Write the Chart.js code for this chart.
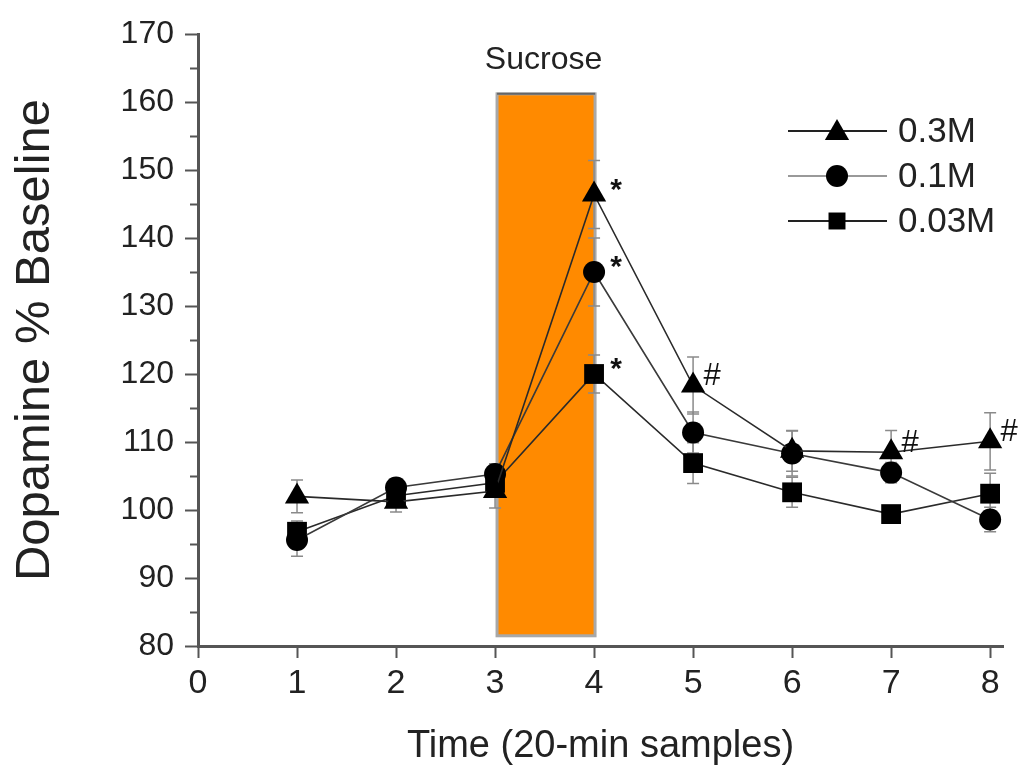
<!DOCTYPE html>
<html lang="en">
<head>
<meta charset="UTF-8">
<title>Dopamine response to sucrose</title>
<script src="https://cdn.jsdelivr.net/npm/chart.js"></script>
<style>
    body { margin: 0; background: #fff; }
    #chart { display: block; }
</style>
</head>
<body>
<canvas id="chart" width="1025" height="769"></canvas>
<script>
// sample number (20-min samples)
const samples = [1, 2, 3, 4, 5, 6, 7, 8];

const seriesNames = ['0.3M', '0.1M', '0.03M'];
const dopamine03 = [102, 101.2, 102.8, 146.4, 118.3, 108.7, 108.5, 110.1];
const dopamine01 = [95.6, 103.3, 105.3, 135.0, 111.4, 108.3, 105.5, 98.6];
const dopamine003 = [96.8, 102.1, 104.0, 120.0, 106.9, 102.6, 99.4, 102.4];

// SEM
const sem03 = [2.4, 1.5, 2.5, 5.0, 4.2, 3.0, 3.2, 4.2];
const sem01 = [2.4, 1.0, 1.5, 5.0, 3.0, 3.3, 1.5, 1.8];
const sem003 = [1.6, 1.0, 1.6, 2.8, 3.0, 2.2, 1.0, 3.0];

// significance marks
const marks03 = ['', '', '', '*', '#', '', '#', '#'];
const marks01 = ['', '', '', '*', '', '', '', ''];
const marks003 = ['', '', '', '*', '', '', '', ''];

const xTicks = [0, 1, 2, 3, 4, 5, 6, 7, 8];
const yTicks = [80, 90, 100, 110, 120, 130, 140, 150, 160, 170];
const yMinorTicks = [85, 95, 105, 115, 125, 135, 145, 155, 165];

// sucrose period
const sucroseLabel = 'Sucrose';
const sucroseStart = 3;
const sucroseEnd = 4;
const sucroseLow = 81.5;
const sucroseHigh = 161.2;

const FONT = "'Liberation Sans', Arial, Helvetica, sans-serif";

function toPoints(values) {
    return samples.map((s, i) => ({ x: s, y: values[i] }));
}

const styles = [
    { pointStyle: 'triangle', radius: 14, line: '#2a2a2a', legendLine: '#222', sem: sem03, marks: marks03 },
    { pointStyle: 'circle', radius: 11, line: '#3a3a3a', legendLine: '#999', sem: sem01, marks: marks01 },
    { pointStyle: 'rect', radius: 14, line: '#2a2a2a', legendLine: '#222', sem: sem003, marks: marks003 }
];
const allValues = [dopamine03, dopamine01, dopamine003];

const datasets = allValues.map((vals, i) => ({
    label: seriesNames[i],
    data: toPoints(vals),
    borderColor: styles[i].line,
    borderWidth: 1.6,
    backgroundColor: '#000',
    pointStyle: styles[i].pointStyle,
    pointRadius: styles[i].radius,
    pointBackgroundColor: '#000',
    pointBorderColor: '#000',
    pointBorderWidth: 0,
    tension: 0
}));

function drawMarker(ctx, style, r, x, y) {
    ctx.beginPath();
    if (style === 'triangle') {
        ctx.moveTo(x, y - r);
        ctx.lineTo(x + 0.866 * r, y + 0.5 * r);
        ctx.lineTo(x - 0.866 * r, y + 0.5 * r);
        ctx.closePath();
    } else if (style === 'circle') {
        ctx.arc(x, y, r, 0, Math.PI * 2);
    } else {
        const s = r * Math.SQRT1_2;
        ctx.rect(x - s, y - s, 2 * s, 2 * s);
    }
    ctx.fill();
}

const extrasPlugin = {
    id: 'extras',
    beforeDatasetsDraw(chart) {
        const { ctx, scales: { x, y } } = chart;
        ctx.save();
        // sucrose box
        const x0 = x.getPixelForValue(sucroseStart) + 2;
        const x1 = x.getPixelForValue(sucroseEnd) + 1;
        const y0 = y.getPixelForValue(sucroseHigh);
        const y1 = y.getPixelForValue(sucroseLow);
        ctx.fillStyle = '#ff8a00';
        ctx.fillRect(x0, y0, x1 - x0, y1 - y0);
        ctx.strokeStyle = '#a8a8a8';
        ctx.lineWidth = 3;
        ctx.strokeRect(x0, y0, x1 - x0, y1 - y0);
        ctx.strokeStyle = '#666';
        ctx.lineWidth = 2;
        ctx.beginPath();
        ctx.moveTo(x0, y0);
        ctx.lineTo(x1, y0);
        ctx.stroke();

        // error bars
        ctx.strokeStyle = '#8a8a8a';
        ctx.lineWidth = 1.5;
        allValues.forEach((vals, si) => {
            vals.forEach((v, i) => {
                const px = x.getPixelForValue(samples[i]);
                const top = y.getPixelForValue(v + styles[si].sem[i]);
                const bot = y.getPixelForValue(v - styles[si].sem[i]);
                ctx.beginPath();
                ctx.moveTo(px, top);
                ctx.lineTo(px, bot);
                ctx.moveTo(px - 6, top);
                ctx.lineTo(px + 6, top);
                ctx.moveTo(px - 6, bot);
                ctx.lineTo(px + 6, bot);
                ctx.stroke();
            });
        });
        ctx.restore();
    },
    afterDatasetsDraw(chart) {
        const { ctx, scales: { x, y } } = chart;
        ctx.save();
        ctx.fillStyle = '#111';
        ctx.textBaseline = 'middle';
        ctx.textAlign = 'center';
        allValues.forEach((vals, si) => {
            vals.forEach((v, i) => {
                const m = styles[si].marks[i];
                if (!m) return;
                const px = x.getPixelForValue(samples[i]);
                const py = y.getPixelForValue(v);
                if (m === '*') {
                    ctx.font = 'bold 30px ' + FONT;
                    ctx.fillText(m, px + 22, py - 4);
                } else {
                    ctx.font = '31px ' + FONT;
                    ctx.fillText(m, px + 19, py - 9);
                }
            });
        });
        ctx.restore();
    },
    afterDraw(chart) {
        const { ctx, scales: { x, y } } = chart;
        ctx.save();
        // minor y ticks
        ctx.strokeStyle = '#555';
        ctx.lineWidth = 2;
        const ax = x.left;
        yMinorTicks.forEach(v => {
            const py = Math.round(y.getPixelForValue(v)) + 0.5;
            ctx.beginPath();
            ctx.moveTo(ax - 8, py);
            ctx.lineTo(ax, py);
            ctx.stroke();
        });

        // sucrose label
        ctx.fillStyle = '#222';
        ctx.font = '32px ' + FONT;
        ctx.textAlign = 'center';
        ctx.textBaseline = 'middle';
        ctx.fillText(sucroseLabel, (x.getPixelForValue(sucroseStart) + x.getPixelForValue(sucroseEnd)) / 2 - 1, 60);

        // legend
        const lx0 = 788, lx1 = 887, mx = 837, tx = 898;
        const rows = [131, 176, 221];
        ctx.textAlign = 'left';
        ctx.font = '35px ' + FONT;
        seriesNames.forEach((name, i) => {
            const ry = rows[i];
            ctx.strokeStyle = styles[i].legendLine;
            ctx.lineWidth = 2;
            ctx.beginPath();
            ctx.moveTo(lx0, ry);
            ctx.lineTo(lx1, ry);
            ctx.stroke();
            ctx.fillStyle = '#000';
            const r = styles[i].pointStyle === 'circle' ? 11 : (styles[i].pointStyle === 'rect' ? 12 : 14);
            drawMarker(ctx, styles[i].pointStyle, r, mx, ry + (styles[i].pointStyle === 'triangle' ? 2 : 0));
            ctx.fillStyle = '#222';
            ctx.fillText(name, tx, ry + 1);
        });
        ctx.restore();
    }
};

new Chart(document.getElementById('chart'), {
    type: 'line',
    data: { datasets },
    plugins: [extrasPlugin],
    options: {
        responsive: false,
        animation: false,
        events: [],
        layout: { padding: { left: 0, top: 34, right: 22, bottom: 0 } },
        plugins: {
            legend: { display: false },
            tooltip: { enabled: false }
        },
        scales: {
            x: {
                type: 'linear',
                min: 0,
                max: 8.13,
                afterBuildTicks: scale => { scale.ticks = xTicks.map(v => ({ value: v })); },
                afterFit: scale => { scale.height = 123; },
                grid: { drawOnChartArea: false, tickLength: 12, tickWidth: 2, tickColor: '#555' },
                border: { color: '#555', width: 3 },
                ticks: { font: { family: FONT, size: 34 }, color: '#222', padding: 5, maxRotation: 0 },
                title: {
                    display: true,
                    text: 'Time (20-min samples)',
                    font: { family: FONT, size: 38 },
                    color: '#222',
                    padding: { top: 0, bottom: 0 }
                }
            },
            y: {
                min: 80,
                max: 170,
                afterBuildTicks: scale => { scale.ticks = yTicks.map(v => ({ value: v })); },
                afterFit: scale => { scale.width = 198; },
                grid: { drawOnChartArea: false, tickLength: 13, tickWidth: 2, tickColor: '#555' },
                border: { color: '#555', width: 3 },
                ticks: { font: { family: FONT, size: 32 }, color: '#222', padding: 11 },
                title: {
                    display: true,
                    text: 'Dopamine % Baseline',
                    font: { family: FONT, size: 49 },
                    color: '#222',
                    padding: { top: 6, bottom: 0 }
                }
            }
        }
    }
});
</script>
</body>
</html>
